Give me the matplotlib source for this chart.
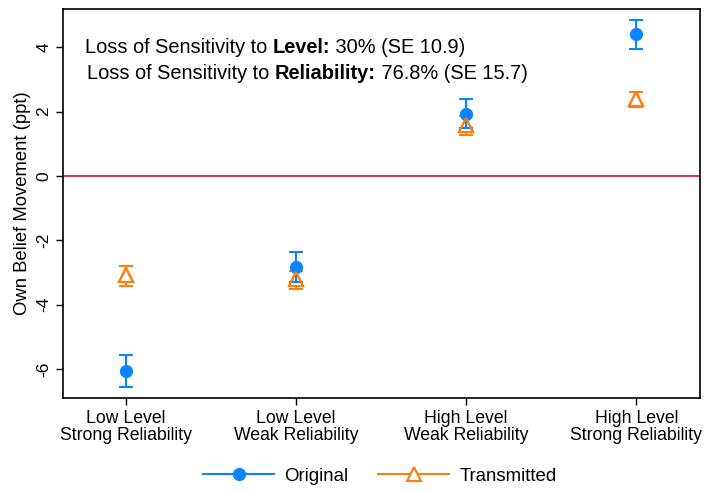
import numpy as np
import matplotlib.pyplot as plt
from matplotlib.lines import Line2D

plt.rcParams['font.family'] = ['Liberation Sans', 'DejaVu Sans']

# data
categories = ["Low Level\nStrong Reliability", "Low Level\nWeak Reliability",
              "High Level\nWeak Reliability", "High Level\nStrong Reliability"]
orig = [-6.06, -2.82, 1.93, 4.40]
orig_lo = [-6.55, -3.30, 1.50, 3.94]
orig_hi = [-5.56, -2.36, 2.38, 4.84]
trans = [-3.07, -3.20, 1.58, 2.38]
trans_lo = [-3.42, -3.50, 1.27, 2.13]
trans_hi = [-2.80, -2.95, 1.86, 2.62]

line1 = ["Loss of Sensitivity to ", "Level:", " 30% (SE 10.9)"]
line2 = ["Loss of Sensitivity to ", "Reliability:", " 76.8% (SE 15.7)"]

blue = "#0a84ff"
orange = "#ff7f0e"

x = np.arange(1, len(categories) + 1)

fig = plt.figure(figsize=(7.08, 4.91), dpi=100)
ax = fig.add_axes([63/708, 1 - 398/491, 637/708, 389/491])

# zero line
ax.axhline(0, color="#d0103a", lw=1.2, zorder=1)

# original
o = np.array(orig)
ax.errorbar(x, o, yerr=[o - np.array(orig_lo), np.array(orig_hi) - o],
            fmt="o", color=blue, ms=8.5, capsize=5, elinewidth=1.5, capthick=1.5, zorder=3)
# transmitted
t = np.array(trans)
ax.errorbar(x, t, yerr=[t - np.array(trans_lo), np.array(trans_hi) - t],
            fmt="^", color=orange, mfc="white", mec=orange, mew=1.5, ms=10,
            capsize=5, elinewidth=1.5, capthick=1.5, zorder=2)
ax.plot(x, t, "^", ms=10, mfc="none", mec=orange, mew=1.5, zorder=4)

ax.set_xlim(0.63, 4.375)
ax.set_ylim(-6.9, 5.19)
ax.set_xticks(x)
ax.set_xticklabels(categories, fontsize=12.7, linespacing=1.05)
ax.set_yticks([-6, -4, -2, 0, 2, 4])
ax.set_yticklabels(["-6", "-4", "-2", "0", "2", "4"], rotation=90, va="center", fontsize=12.5)
ax.tick_params(direction="out", length=5, width=1)
ax.set_ylabel("Own Belief Movement (ppt)", fontsize=13.3, labelpad=4)
for s in ax.spines.values():
    s.set_linewidth(1.2)


def rich_line(parts, x0, y0):
    # left part normal, middle bold, right normal, chained one after another
    prev = ax.text(x0 / 637, 1 - y0 / 389, parts[0], transform=ax.transAxes,
                   ha="left", va="bottom", fontsize=14.4)
    for i, p in enumerate(parts[1:]):
        prev = ax.annotate(p, xy=(1, 0), xycoords=prev, ha="left", va="bottom",
                           fontsize=14.4, fontweight="bold" if i == 0 else "normal")


rich_line(line1, 22, 48)
rich_line(line2, 24, 74)

handles = [Line2D([], [], color=blue, marker="o", ms=8.5, lw=1.5),
           Line2D([], [], color=orange, marker="^", ms=10, mfc="white", mew=1.5, lw=1.5)]
fig.legend(handles, ["Original", "Transmitted"], loc="center", bbox_to_anchor=(380/708, 1 - 476/491),
           ncol=2, frameon=False, fontsize=13.4, handlelength=3.8, handletextpad=0.55,
           columnspacing=1.6)

fig.savefig("out.png", dpi=100)
